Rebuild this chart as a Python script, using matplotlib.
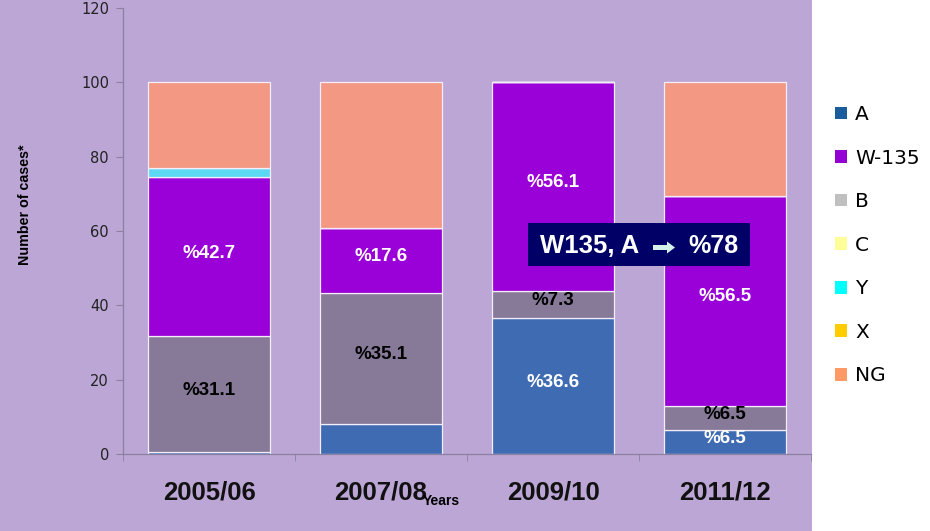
import matplotlib
matplotlib.use('Agg')
from matplotlib import pyplot as plt
from matplotlib.patches import Rectangle, Patch, FancyArrow
import numpy as np

# data (percent of cases per season)
years = ['2005/06', '2007/08', '2009/10', '2011/12']
groups = ['A', 'W-135', 'B', 'C', 'Y', 'X', 'NG']
val_A = [0.6, 8.2, 36.6, 6.5]
val_W = [42.7, 17.6, 56.1, 56.5]
val_B = [31.1, 35.1, 7.3, 6.5]
val_C = [0, 0, 0, 0]
val_Y = [2.6, 0, 0, 0]
val_X = [0, 0, 0, 0]
val_NG = [23.0, 39.1, 0, 30.5]

# stacking order in the bars (bottom -> top)
stack_order = ['A', 'B', 'W-135', 'C', 'Y', 'X', 'NG']
series = {'A': val_A, 'W-135': val_W, 'B': val_B, 'C': val_C,
          'Y': val_Y, 'X': val_X, 'NG': val_NG}

bar_colors = {'A': '#3e6bb1', 'W-135': '#9a00d8', 'B': '#877a99',
              'C': '#fff59a', 'Y': '#5dd8f2', 'X': '#ffcc00', 'NG': '#f39883'}
legend_colors = {'A': '#1b5c9c', 'W-135': '#9400d3', 'B': '#c0c0c0',
                 'C': '#ffff99', 'Y': '#00ffff', 'X': '#ffcc00', 'NG': '#ff9966'}

# which segments get a label, and label colour
labels = {('A', 2): 'white', ('A', 3): 'white',
          ('B', 0): 'black', ('B', 1): 'black', ('B', 2): 'black', ('B', 3): 'black',
          ('W-135', 0): 'white', ('W-135', 1): 'white', ('W-135', 2): 'white',
          ('W-135', 3): 'white'}

bg = '#bba6d5'
fig = plt.figure(figsize=(9.3, 5.31), dpi=100, facecolor='white')
fig.patches.append(Rectangle((0, 0), 812 / 930, 1, transform=fig.transFigure,
                             facecolor=bg, edgecolor='none', zorder=-5))

ax = fig.add_axes([123 / 930, 77 / 531, 688 / 930, 446 / 531])
ax.set_facecolor('none')
ax.set_zorder(1)

x = np.arange(len(years))
bottom = np.zeros(len(years))
for g in stack_order:
    vals = np.array(series[g], dtype=float)
    ax.bar(x, vals, 0.715, bottom=bottom, color=bar_colors[g],
           edgecolor='#f4eefa', linewidth=0.9, zorder=2)
    for i, v in enumerate(vals):
        if (g, i) in labels:
            ax.text(x[i], bottom[i] + v / 2 + 1, '%' + str(v), ha='center', va='center',
                    color=labels[(g, i)], fontsize=13.5, fontweight='bold',
                    family='Liberation Sans', zorder=4)
    bottom += vals

ax.set_xlim(-0.5, len(years) - 0.5)
ax.set_ylim(0, 120)
ax.set_yticks(np.arange(0, 121, 20))
ax.set_xticks(x)
ax.set_xticklabels(years, fontsize=18.5, fontweight='bold', family='Liberation Sans')
ax.set_xticks(np.arange(-0.5, len(years), 1), minor=True)
ax.tick_params(axis='x', which='major', length=0, pad=19, colors='#111111')
ax.tick_params(axis='x', which='minor', length=5, direction='out', color='#8c80a0')
ax.tick_params(axis='y', length=5, pad=5, color='#8c80a0', labelsize=10.5,
               labelcolor='#222222')
for s in ['top', 'right']:
    ax.spines[s].set_visible(False)
for s in ['left', 'bottom']:
    ax.spines[s].set_color('#8c80a0')
    ax.spines[s].set_linewidth(0.9)

fig.text(25 / 930, 1 - 205 / 531, 'Number of cases*', rotation=90, ha='center',
         va='center', fontsize=10.3, fontweight='bold', family='Liberation Sans')
fig.text(441 / 930, 1 - 501 / 531, 'Years', ha='center', va='center',
         fontsize=10, fontweight='bold', family='Liberation Sans', zorder=6)

# highlighted note box
fig.patches.append(Rectangle((528 / 930, 1 - 266 / 531), 222 / 930, 43 / 531,
                             transform=fig.transFigure, facecolor='#000066',
                             edgecolor='none', zorder=5))
fig.text(540 / 930, 1 - 246 / 531, 'W135, A', ha='left', va='center', color='white',
         fontsize=18.5, fontweight='bold', family='Liberation Sans', zorder=6)
fig.text(688 / 930, 1 - 246 / 531, '%78', ha='left', va='center', color='white',
         fontsize=18, fontweight='bold', family='Liberation Sans', zorder=6)
fig.patches.append(FancyArrow(
    653 / 930, 1 - 247.5 / 531, 14 / 930, 0, width=5 / 531, head_width=12 / 531,
    head_length=8 / 930, length_includes_head=False, transform=fig.transFigure,
    facecolor='#d4f2ea', edgecolor='none', zorder=6))

handles = [Patch(facecolor=legend_colors[g], edgecolor='none') for g in groups]
fig.legend(handles, groups, loc='upper left', bbox_to_anchor=(827 / 930, 1 - 97 / 531),
           frameon=False, fontsize=14.5, handlelength=0.6, handleheight=0.6,
           handletextpad=0.4, labelspacing=1.22, borderaxespad=0)

plt.savefig('out.png', dpi=100, facecolor=fig.get_facecolor())
